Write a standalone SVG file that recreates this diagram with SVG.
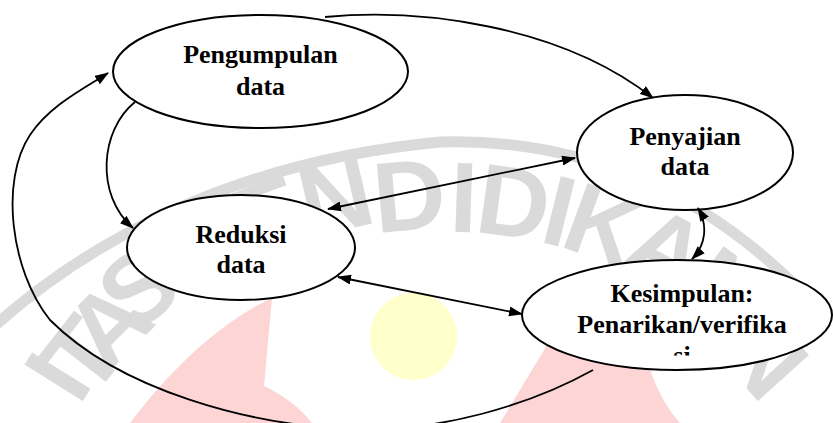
<svg xmlns="http://www.w3.org/2000/svg" width="833" height="423" viewBox="0 0 833 423">
  <defs>
    <marker id="ah" viewBox="0 0 14 10" refX="13" refY="5" markerWidth="14" markerHeight="10" markerUnits="userSpaceOnUse" orient="auto-start-reverse">
      <path d="M0,0 L14,5 L0,10 z" fill="#000"/>
    </marker>
    <clipPath id="clipK">
      <rect x="520" y="255" width="313" height="100.5"/>
    </clipPath>
    <style>
      .node { fill: #fff; stroke: #000; stroke-width: 2; }
      .lbl { font-family: "Liberation Serif", "Times New Roman", serif; font-weight: bold; font-size: 26px; fill: #000; text-anchor: middle; }
      .edge { fill: none; stroke: #000; stroke-width: 1.8; }
      .wm { fill: #dadada; font-family: "Liberation Sans", Arial, sans-serif; font-weight: bold; font-size: 100px; text-anchor: middle; }
    </style>
  </defs>
  <rect width="833" height="423" fill="#fff"/>

  <g id="watermark">
    <path d="M130,423 C 170,370 220,322 272,298 L 264,386 C 285,396 300,408 312,423 Z" fill="#fdd5d5"/>
    <path d="M500,423 C 520,390 538,360 553,335 L 642,340 C 650,378 664,405 680,423 Z" fill="#fdd5d5"/>
    <circle cx="413.5" cy="336.5" r="43.5" fill="#ffffcc"/>
    <path d="M-10,330 C 100,230 250,160 440,142 C 580,138 700,190 800,290" fill="none" stroke="#dadada" stroke-width="11"/>
    <text class="wm" transform="translate(56,376) rotate(-58)" y="36">I</text>
    <text class="wm" transform="translate(82,354) rotate(-52)" y="36">T</text>
    <text class="wm" transform="translate(107,323) rotate(-45)" y="36">A</text>
    <text class="wm" transform="translate(137,287) rotate(-38)" y="36">S</text>
    <text class="wm" transform="translate(205,250) rotate(-28)" y="36">P</text>
    <text class="wm" transform="translate(268,215) rotate(-20)" y="36">E</text>
    <text class="wm" transform="translate(335,195) rotate(-13)" y="36">N</text>
    <text class="wm" transform="translate(409,194) rotate(-5)" y="36">D</text>
    <text class="wm" transform="translate(464,196) rotate(2)" y="36">I</text>
    <text class="wm" transform="translate(514,201) rotate(8)" y="36">D</text>
    <text class="wm" transform="translate(560,210) rotate(14)" y="36">I</text>
    <text class="wm" transform="translate(604,224) rotate(20)" y="36">K</text>
    <text class="wm" transform="translate(668,248) rotate(28)" y="36">A</text>
    <text class="wm" transform="translate(728,290) rotate(36)" y="36">N</text>
    <text class="wm" transform="translate(765,355) rotate(48)" y="36">N</text>
  </g>

  <g id="n1">
    <ellipse class="node" cx="260.5" cy="71.5" rx="147.5" ry="56.5"/>
    <text class="lbl" x="260.5" y="63">Pengumpulan</text>
    <text class="lbl" x="260.5" y="95">data</text>
  </g>
  <g id="n2">
    <ellipse class="node" cx="685" cy="152.5" rx="108" ry="57.5"/>
    <text class="lbl" x="685" y="145">Penyajian</text>
    <text class="lbl" x="685" y="175">data</text>
  </g>
  <g id="n3">
    <ellipse class="node" cx="241" cy="247.5" rx="114" ry="52.5"/>
    <text class="lbl" x="241" y="243">Reduksi</text>
    <text class="lbl" x="241" y="273">data</text>
  </g>
  <g id="n4">
    <ellipse class="node" cx="677" cy="315" rx="155" ry="55"/>
    <g clip-path="url(#clipK)">
      <text class="lbl" x="682" y="302">Kesimpulan:</text>
      <text class="lbl" x="682" y="333">Penarikan/verifika</text>
      <text class="lbl" x="682" y="364">si</text>
    </g>
  </g>

  <g id="connectors">
    <path class="edge" d="M325,17 C 420,8 560,25 653,98" marker-end="url(#ah)"/>
    <path class="edge" d="M135,102 C 100,130 95,195 133,228" marker-end="url(#ah)"/>
    <path class="edge" d="M593,370 C 530,405 440,432 355,429 C 250,426 120,390 50,320 C 10,270 0,180 30,135 C 50,105 85,88 108,73" marker-end="url(#ah)"/>
    <path class="edge" d="M328,209 L575,158" marker-start="url(#ah)" marker-end="url(#ah)"/>
    <path class="edge" d="M338,277 L522,314" marker-start="url(#ah)" marker-end="url(#ah)"/>
    <path class="edge" d="M698,208 C 708,225 706,245 692,259" marker-start="url(#ah)" marker-end="url(#ah)"/>
  </g>
</svg>
